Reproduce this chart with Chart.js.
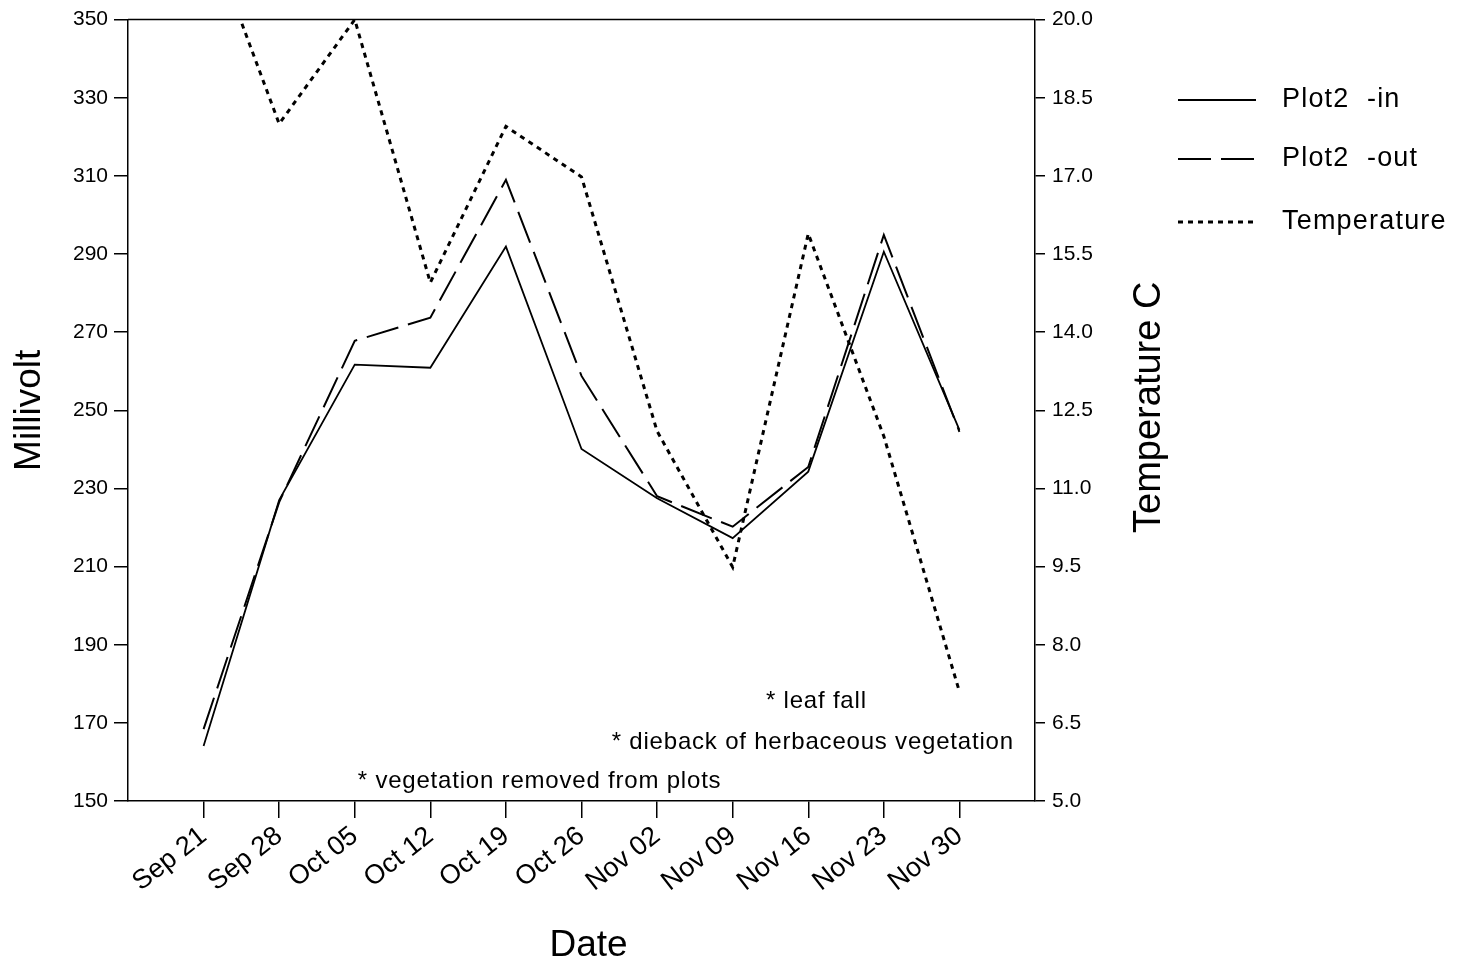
<!DOCTYPE html>
<html>
<head>
<meta charset="utf-8">
<script src="https://cdn.jsdelivr.net/npm/chart.js@4.4.1/dist/chart.umd.min.js"></script>
<style>
  html, body { margin: 0; padding: 0; background: #fff; }
  #wrap { width: 1460px; height: 969px; }
</style>
</head>
<body>
<div id="wrap"><canvas id="c" width="1460" height="969"></canvas></div>
<script>
// ---- data ----
const dateLabels = ['Sep 21','Sep 28','Oct 05','Oct 12','Oct 19','Oct 26','Nov 02','Nov 09','Nov 16','Nov 23','Nov 30'];
const plot2In    = [164.1, 227.0, 261.7, 260.9, 291.9, 240.1, 227.5, 217.3, 234.3, 290.6, 245.0];
const plot2Out   = [168.4, 226.5, 267.8, 273.7, 309.0, 258.8, 228.0, 220.2, 235.5, 294.9, 244.5];
const temperature = [21.9, 18.0, 20.0, 14.95, 17.95, 16.98, 12.1, 9.49, 15.89, 12.0, 7.1];
const mvTicks   = [150, 170, 190, 210, 230, 250, 270, 290, 310, 330, 350];
const tempTicks = [5.0, 6.5, 8.0, 9.5, 11.0, 12.5, 14.0, 15.5, 17.0, 18.5, 20.0];
const notes = [
  { text: '* leaf fall', x: 7.44, y: 175.6 },
  { text: '* dieback of herbaceous vegetation', x: 5.40, y: 164.9 },
  { text: '* vegetation removed from plots', x: 2.04, y: 155.1 }
];
const legendItems = [
  { text: 'Plot2  -in', dash: [], width: 1.8 },
  { text: 'Plot2  -out', dash: [33, 10], width: 2 },
  { text: 'Temperature', dash: [5, 5], width: 3 }
];

const FONT = '"Liberation Sans", Arial, Helvetica, sans-serif';
Chart.defaults.font.family = FONT;
Chart.defaults.color = '#000';

const toXY = arr => arr.map((v, i) => ({ x: i, y: v }));

const extras = {
  id: 'extras',
  afterDatasetsDraw(chart) {
    const { ctx, chartArea: a, scales } = chart;
    ctx.save();
    // top border
    ctx.strokeStyle = '#000';
    ctx.lineWidth = 1.5;
    ctx.beginPath();
    ctx.moveTo(a.left, a.top);
    ctx.lineTo(a.right, a.top);
    ctx.stroke();
    // annotations
    ctx.fillStyle = '#000';
    ctx.font = '24px ' + FONT;
    ctx.letterSpacing = '0.8px';
    ctx.textAlign = 'left';
    ctx.textBaseline = 'middle';
    notes.forEach(n => {
      ctx.fillText(n.text, scales.x.getPixelForValue(n.x), scales.y.getPixelForValue(n.y));
    });
    ctx.letterSpacing = '0px';
    // bottom axis title
    ctx.font = '37px ' + FONT;
    ctx.textAlign = 'center';
    ctx.fillText('Date', (a.left + a.right) / 2 + 7, 946);
    // right axis title (reads bottom to top)
    ctx.save();
    ctx.translate(scales.y1.left + 115, (a.top + a.bottom) / 2 - 3);
    ctx.rotate(-Math.PI / 2);
    ctx.font = '38px ' + FONT;
    ctx.textAlign = 'center';
    ctx.fillText('Temperature C', 0, 0);
    ctx.restore();
    // legend
    const lx0 = 1178, lx1 = 1256, tx = 1282;
    const ly = [100, 159, 222];
    ctx.font = '27px ' + FONT;
    ctx.letterSpacing = '1.2px';
    ctx.textAlign = 'left';
    ctx.textBaseline = 'middle';
    legendItems.forEach((it, i) => {
      ctx.beginPath();
      ctx.setLineDash(it.dash);
      ctx.lineWidth = it.width;
      ctx.moveTo(lx0, ly[i]);
      ctx.lineTo(lx1, ly[i]);
      ctx.stroke();
      ctx.setLineDash([]);
      ctx.fillText(it.text, tx, ly[i]);
    });
    ctx.restore();
  }
};

new Chart(document.getElementById('c'), {
  type: 'line',
  data: {
    datasets: [
      { label: 'Plot2  -in', data: toXY(plot2In), yAxisID: 'y', borderColor: '#000', borderWidth: 1.8, pointRadius: 0, tension: 0, fill: false },
      { label: 'Plot2  -out', data: toXY(plot2Out), yAxisID: 'y', borderColor: '#000', borderWidth: 2, borderDash: [33, 10], pointRadius: 0, tension: 0, fill: false },
      { label: 'Temperature', data: toXY(temperature), yAxisID: 'y1', borderColor: '#000', borderWidth: 3, borderDash: [5, 5], pointRadius: 0, tension: 0, fill: false }
    ]
  },
  options: {
    responsive: false,
    animation: false,
    events: [],
    layout: { padding: { left: 0, top: 16, right: 285, bottom: 0 } },
    plugins: { legend: { display: false }, tooltip: { enabled: false } },
    scales: {
      x: {
        type: 'linear',
        min: -1, max: 11,
        afterBuildTicks: s => { s.ticks = dateLabels.map((_, i) => ({ value: i })); },
        afterFit: s => { s.height = 168; },
        ticks: {
          callback: v => dateLabels[v] ?? '',
          font: { size: 27 },
          minRotation: 38, maxRotation: 38,
          padding: 2,
          autoSkip: false
        },
        grid: { drawOnChartArea: false, drawTicks: true, tickLength: 17, color: '#000', lineWidth: 1.5 },
        border: { display: true, color: '#000', width: 1.5 },
        title: { display: false }
      },
      y: {
        position: 'left',
        min: 150, max: 350,
        afterBuildTicks: s => { s.ticks = mvTicks.map(v => ({ value: v })); },
        afterFit: s => { s.width = 128; },
        ticks: { font: { size: 21 }, padding: 6, callback: v => String(v) },
        grid: { drawOnChartArea: false, drawTicks: true, tickLength: 14, color: '#000', lineWidth: 1.5 },
        border: { display: true, color: '#000', width: 1.5 },
        title: { display: true, text: 'Millivolt', font: { size: 37 }, padding: { top: 8, bottom: 0 } }
      },
      y1: {
        position: 'right',
        min: 5, max: 20,
        afterBuildTicks: s => { s.ticks = tempTicks.map(v => ({ value: v })); },
        afterFit: s => { s.width = 140; },
        ticks: { font: { size: 21 }, padding: 7, callback: v => Number(v).toFixed(1) },
        grid: { drawOnChartArea: false, drawTicks: true, tickLength: 10, color: '#000', lineWidth: 1.5 },
        border: { display: true, color: '#000', width: 1.5 }
      }
    }
  },
  plugins: [extras]
});
</script>
</body>
</html>
